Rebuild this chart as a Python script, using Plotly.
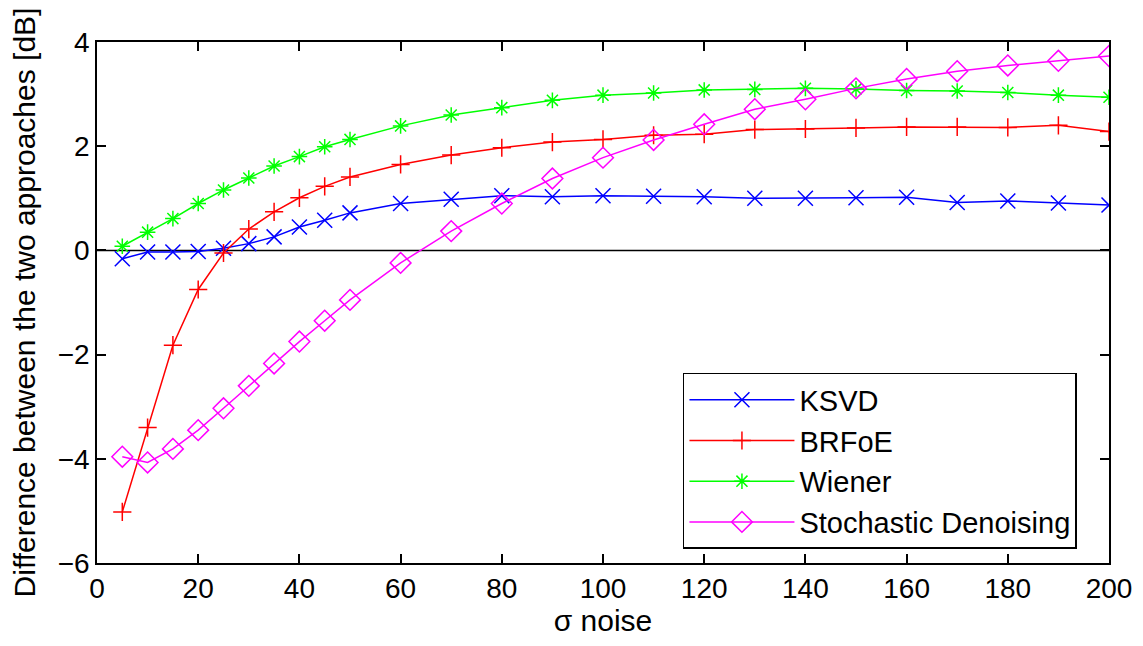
import plotly.graph_objects as go

sigma = [5, 10, 15, 20, 25, 30, 35, 40, 45, 50, 60, 70, 80, 90, 100,
         110, 120, 130, 140, 150, 160, 170, 180, 190, 200]

ksvd = [-0.16, -0.03, -0.03, -0.02, 0.04, 0.13, 0.26, 0.45, 0.58, 0.72, 0.90, 0.98, 1.05, 1.03, 1.05,
        1.04, 1.03, 1.00, 1.00, 1.01, 1.02, 0.92, 0.95, 0.91, 0.87]
brfoe = [-5.02, -3.40, -1.82, -0.75, -0.05, 0.41, 0.74, 1.01, 1.23, 1.41, 1.65, 1.83, 1.97, 2.08, 2.13,
         2.21, 2.23, 2.32, 2.33, 2.35, 2.37, 2.37, 2.36, 2.40, 2.28]
wiener = [0.08, 0.35, 0.61, 0.90, 1.16, 1.39, 1.62, 1.80, 1.99, 2.13, 2.39, 2.60, 2.74, 2.88, 2.98,
          3.02, 3.08, 3.09, 3.11, 3.10, 3.07, 3.06, 3.03, 2.98, 2.94]
stoch = [-3.96, -4.07, -3.81, -3.45, -3.03, -2.60, -2.17, -1.75, -1.35, -0.95, -0.24, 0.37, 0.90, 1.38, 1.78,
         2.12, 2.42, 2.71, 2.90, 3.11, 3.29, 3.44, 3.55, 3.64, 3.73]

series = [
    ("KSVD", ksvd, "#0000ff", "x-thin", 15),
    ("BRFoE", brfoe, "#ff0000", "cross-thin", 13),
    ("Wiener", wiener, "#00ff00", "asterisk", 13),
    ("Stochastic Denoising", stoch, "#ff00ff", "diamond-open", 16),
]

FONT = "Liberation Sans, Arial, Helvetica, sans-serif"
FS_TICK = 28
FS_TEXT = 30
FS_LEG = 29

fig = go.Figure()
for name, vals, col, sym, size in series:
    fig.add_trace(go.Scatter(
        x=sigma, y=vals, name=name, mode="lines+markers",
        line=dict(color=col, width=1.5),
        marker=dict(symbol=sym, size=size, color=col,
                    line=dict(color=col, width=1.5)),
    ))

axis_common = dict(
    showgrid=False, zeroline=False, showline=True, linecolor="black", linewidth=1.5,
    mirror="ticks", ticks="inside", ticklen=9, tickwidth=1.5, tickcolor="black",
    tickfont=dict(family=FONT, size=FS_TICK, color="black"),
    automargin=False,
)

# page body has an 8px default margin; figure is sized/margined to compensate
fig.update_layout(
    width=1135, height=638,
    margin=dict(l=89, r=34, t=34, b=83),
    paper_bgcolor="white", plot_bgcolor="white",
    font=dict(family=FONT, size=FS_TEXT, color="black"),
    xaxis=dict(range=[0, 200], dtick=20,
               title=dict(text="σ noise", font=dict(family=FONT, size=FS_TEXT), standoff=7),
               **axis_common),
    yaxis=dict(range=[-6, 4], dtick=2,
               title=dict(text="Difference between the two approaches [dB]",
                          font=dict(family=FONT, size=FS_TEXT), standoff=15),
               **axis_common),
    legend=dict(x=0.579, y=0.027, xanchor="left", yanchor="bottom",
                bgcolor="white", bordercolor="black", borderwidth=1.5,
                font=dict(family=FONT, size=FS_LEG, color="black"),
                itemwidth=105, tracegroupgap=0),
    showlegend=True,
)

fig.add_hline(y=0, line=dict(color="black", width=1.5), layer="below")

fig.write_html("out.html")
